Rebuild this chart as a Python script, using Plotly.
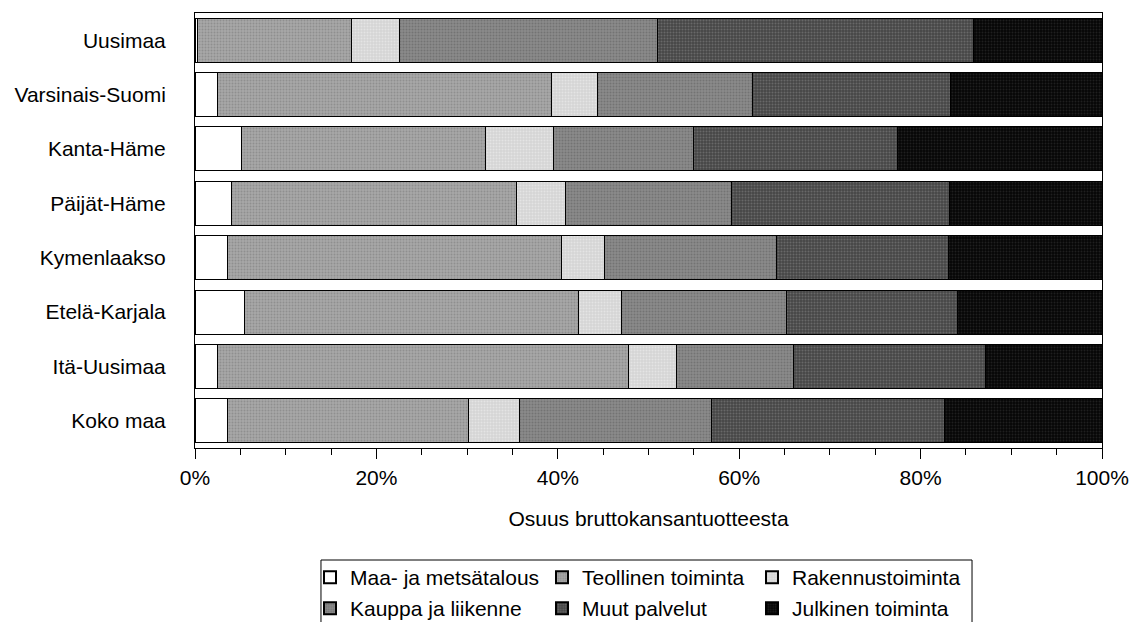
import plotly.graph_objects as go

# Regions (top to bottom) and sector shares of GDP, percent
regions = ["Uusimaa", "Varsinais-Suomi", "Kanta-Häme", "Päijät-Häme",
           "Kymenlaakso", "Etelä-Karjala", "Itä-Uusimaa", "Koko maa"]

maa_metsatalous = [0.3, 2.5, 5.1, 4.0, 3.6, 5.5, 2.5, 3.6]
teollinen = [17.0, 36.8, 26.9, 31.4, 36.8, 36.8, 45.3, 26.6]
rakennus = [5.3, 5.1, 7.5, 5.5, 4.7, 4.7, 5.3, 5.6]
kauppa = [28.4, 17.1, 15.5, 18.3, 19.0, 18.2, 12.9, 21.2]
muut_palvelut = [34.8, 21.8, 22.5, 24.0, 19.0, 18.9, 21.2, 25.6]
julkinen = [14.2, 16.7, 22.5, 16.8, 16.9, 15.9, 12.8, 17.4]

series_names = ["Maa- ja metsätalous", "Teollinen toiminta", "Rakennustoiminta",
                "Kauppa ja liikenne", "Muut palvelut", "Julkinen toiminta"]
series_values = [maa_metsatalous, teollinen, rakennus, kauppa, muut_palvelut, julkinen]

tick_vals = [0, 20, 40, 60, 80, 100]
tick_text = ["0%", "20%", "40%", "60%", "80%", "100%"]

# Grey halftone-like fills
fills = ["#ffffff", "#a8a8a8", "#d4d4d4", "#8a8a8a", "#464646", "#050505"]
dots = ["#ffffff", "#767676", "#f4f4f4", "#5c5c5c", "#8a8a8a", "#3a3a3a"]
legend_ids = ["legend", "legend", "legend", "legend2", "legend2", "legend2"]
entry_widths = [187, 165, 190, 187, 165, 190]

FONT = "Liberation Sans, Arial, sans-serif"
FS = 21

fig = go.Figure()
for name, vals, fc, dc, lg, ew in zip(series_names, series_values, fills, dots,
                                       legend_ids, entry_widths):
    fig.add_trace(go.Bar(
        y=regions, x=vals, name=name, orientation="h",
        marker=dict(color=fc, line=dict(color="#000000", width=1),
                    pattern=dict(shape="." if fc != "#ffffff" else "",
                                 fgcolor=dc, size=3, solidity=0.35,
                                 fillmode="overlay")),
        legend=lg, legendwidth=ew,
    ))

legend_common = dict(orientation="h", x=0.1268, xanchor="left", yanchor="top",
                     traceorder="normal", font=dict(size=FS),
                     bgcolor="rgba(0,0,0,0)", borderwidth=0,
                     itemsizing="constant", tracegroupgap=0)

fig.update_layout(
    width=1136, height=622,
    barmode="stack", bargap=0.19,
    paper_bgcolor="#ffffff", plot_bgcolor="#ffffff",
    margin=dict(l=195, r=34, t=13, b=174, autoexpand=False),
    font=dict(family=FONT, size=FS, color="#000000"),
    xaxis=dict(
        range=[0, 100], tickvals=tick_vals, ticktext=tick_text,
        ticks="outside", ticklen=10, tickwidth=1, tickcolor="#000000",
        minor=dict(dtick=5, ticks="outside", ticklen=6, tickcolor="#000000"),
        showline=True, linecolor="#000000", linewidth=1, mirror=True,
        showgrid=False, zeroline=False, automargin=False,
        tickfont=dict(size=FS), ticklabelstandoff=1,
        title=dict(text="Osuus bruttokansantuotteesta", standoff=23,
                   font=dict(size=FS)),
    ),
    # short inward stubs so the major ticks cross the axis line
    xaxis2=dict(
        overlaying="x", anchor="y", side="bottom", range=[0, 100],
        tickvals=tick_vals, ticks="inside", ticklen=4, tickwidth=1,
        tickcolor="#000000", showticklabels=False, showline=False,
        showgrid=False, zeroline=False, automargin=False,
    ),
    yaxis=dict(
        categoryorder="array", categoryarray=regions, autorange="reversed",
        showline=True, linecolor="#000000", linewidth=1, mirror=True,
        ticks="", showgrid=False, zeroline=False, automargin=False,
        tickfont=dict(size=FS), ticklabelstandoff=24,
    ),
    legend=dict(y=-0.2506, **legend_common),
    legend2=dict(y=-0.3218, **legend_common),
    shapes=[dict(type="rect", xref="paper", yref="paper",
                 x0=0.1389, x1=0.8567, y0=-0.441, y1=-0.2575,
                 line=dict(color="#000000", width=1), fillcolor="rgba(0,0,0,0)",
                 layer="below")],
)

fig.write_html("out.html")
